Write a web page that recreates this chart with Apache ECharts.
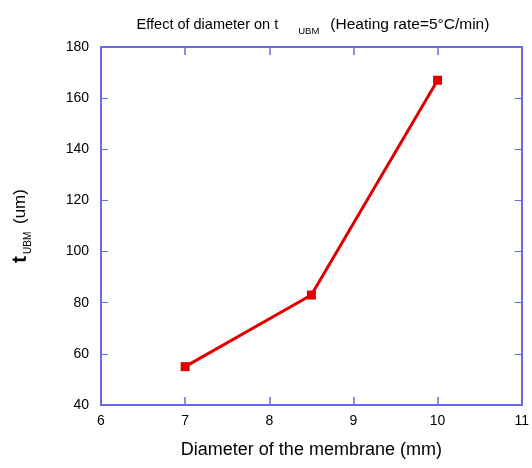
<!DOCTYPE html>
<html><head><meta charset="utf-8">
<script src="https://cdn.jsdelivr.net/npm/echarts@6/dist/echarts.min.js"></script>
<style>html,body{margin:0;padding:0;background:#fff}#c{width:532px;height:468px}</style>
</head><body><div id="c"></div>
<script>
const diameters = [7, 8.5, 10];
const tUBM = [55, 83, 167];
const xTicks = [6, 7, 8, 9, 10, 11];
const yTicks = [40, 60, 80, 100, 120, 140, 160, 180];

const axisColor = '#6a6ae6';
const font = 'Liberation Sans, Arial, sans-serif';
const chart = echarts.init(document.getElementById('c'));
function baseX() {
  return {
    type: 'value', min: 6, max: 11, interval: 1,
    axisLine: {show: true, onZero: false, lineStyle: {color: axisColor, width: 2}},
    axisTick: {show: true, inside: true, length: 8, interval: 0, lineStyle: {color: axisColor, width: 1.5}},
    splitLine: {show: false}
  };
}
function baseY() {
  return {
    type: 'value', min: 40, max: 180, interval: 20,
    axisLine: {show: true, onZero: false, lineStyle: {color: axisColor, width: 2}},
    axisTick: {show: true, inside: true, length: 7, lineStyle: {color: axisColor, width: 1}},
    splitLine: {show: false}
  };
}
chart.setOption({
  backgroundColor: '#fff',
  animation: false,
  title: {
    text: '{a|Effect of diameter on t}{s|UBM}{b|(Heating rate=5°C/min)}',
    left: 308, top: 9, textAlign: 'center',
    textStyle: {
      fontWeight: 'normal',
      rich: {
        a: {fontFamily: font, fontSize: 14.5, fontWeight: 'normal', color: '#000', lineHeight: 22, verticalAlign: 'middle'},
        b: {fontFamily: font, fontSize: 15.5, fontWeight: 'normal', color: '#000', lineHeight: 22, verticalAlign: 'middle'},
        s: {fontFamily: font, fontSize: 9.5, fontWeight: 'normal', color: '#000', lineHeight: 22, verticalAlign: 'bottom', padding: [0, 11, 0, 20]}
      }
    }
  },
  grid: {left: 101, right: 9, top: 47, bottom: 63},
  xAxis: [
    Object.assign(baseX(), {
      position: 'bottom',
      axisLabel: {show: true, color: '#000', fontFamily: font, fontSize: 14, margin: 9,
        formatter: v => xTicks.includes(v) ? String(v) : ''},
      name: 'Diameter of the membrane (mm)', nameLocation: 'middle', nameGap: 36,
      nameTextStyle: {fontFamily: font, fontSize: 18, color: '#000'}
    }),
    Object.assign(baseX(), {position: 'top', axisLabel: {show: false}})
  ],
  yAxis: [
    Object.assign(baseY(), {
      position: 'left',
      axisLabel: {show: true, color: '#000', fontFamily: font, fontSize: 14, margin: 12,
        formatter: v => yTicks.includes(v) ? String(v) : ''},
      name: '{t|t}{s|UBM}{u| (um)}', nameLocation: 'middle', nameGap: 68, nameRotate: 90,
      nameTextStyle: {
        rich: {
          t: {fontFamily: font, fontSize: 21, fontWeight: 'bold', color: '#000', lineHeight: 26, verticalAlign: 'middle'},
          s: {fontFamily: font, fontSize: 10, color: '#000', lineHeight: 26, verticalAlign: 'bottom', padding: [0, 3, 0, 2]},
          u: {fontFamily: font, fontSize: 17, color: '#000', lineHeight: 26, verticalAlign: 'middle'}
        }
      }
    }),
    Object.assign(baseY(), {position: 'right', axisLabel: {show: false}})
  ],
  series: [{
    type: 'line',
    data: diameters.map((d, i) => [d, tUBM[i]]),
    xAxisIndex: 0, yAxisIndex: 0,
    symbol: 'rect', symbolSize: 9,
    lineStyle: {color: '#e00000', width: 3},
    itemStyle: {color: '#e00000'}
  }]
});
</script></body></html>
